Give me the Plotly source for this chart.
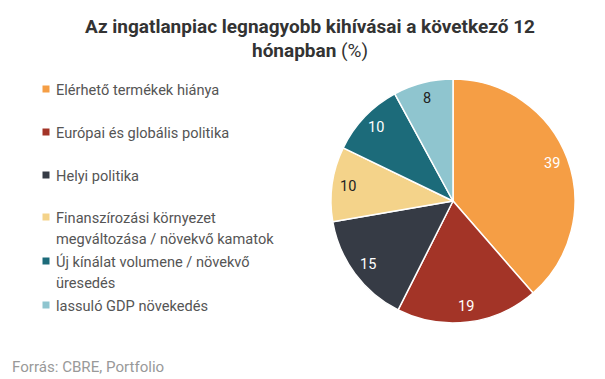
import math
import plotly.graph_objects as go

categories = [
    "Elérhető termékek hiánya",
    "Európai és globális politika",
    "Helyi politika",
    "Finanszírozási környezet<br>megváltozása / növekvő kamatok",
    "Új kínálat volumene / növekvő<br>üresedés",
    "lassuló GDP növekedés",
]
values = [39, 19, 15, 10, 10, 8]
colors = ["#F59E45", "#A33427", "#363B45", "#F4D38A", "#1C6B7A", "#8FC5CF"]
text_colors = ["white", "white", "white", "#222222", "white", "#222222"]

W, H = 605, 379
OFF = 8  # page body margin


def fx(x):
    return (x - OFF) / W


def fy(y):
    return 1 - (y - OFF) / H


CX, CY, R = 453, 201, 122

fig = go.Figure()
fig.add_trace(go.Pie(
    values=values, labels=categories, sort=False, direction="clockwise",
    rotation=0, marker=dict(colors=colors, line=dict(color="white", width=1.5)),
    textinfo="none", showlegend=False, hoverinfo="label+value",
    domain=dict(x=[fx(CX - R), fx(CX + R)], y=[fy(CY + R), fy(CY - R)]),
))

annotations = []
shapes = []

# value labels placed at the middle angle of each slice
total = sum(values)
cum = 0
for v, tc in zip(values, text_colors):
    mid = (cum + v / 2) / total * 2 * math.pi
    cum += v
    rr = 0.87 * R
    px = CX + rr * math.sin(mid)
    py = CY - rr * math.cos(mid)
    annotations.append(dict(
        x=fx(px), y=fy(py), xref="paper", yref="paper", xanchor="center",
        yanchor="middle", showarrow=False, text=str(v),
        font=dict(family="Roboto", size=14.5, color=tc)))

# custom legend built from the arrays
legend_tops = [89, 132, 175, 217, 261, 305]
line_gap = 20.5
for i, (lab, col) in enumerate(zip(categories, colors)):
    y0 = legend_tops[i]
    shapes.append(dict(type="rect", xref="paper", yref="paper",
                       x0=fx(42.5), x1=fx(49.5),
                       y0=fy(y0 + 3.5), y1=fy(y0 - 3.5),
                       fillcolor=col, line=dict(width=0)))
    for j, part in enumerate(lab.split("<br>")):
        annotations.append(dict(
            x=fx(54), y=fy(y0 + j * line_gap + 1), xref="paper", yref="paper",
            xanchor="left", yanchor="middle", showarrow=False, text=part,
            font=dict(family="Roboto", size=14.6, color="#555555")))

annotations.append(dict(
    x=fx(302 + OFF), y=fy(26), xref="paper", yref="paper", xanchor="center",
    yanchor="middle", showarrow=False,
    text="<b>Az ingatlanpiac legnagyobb kihívásai a következő 12</b>",
    font=dict(family="Roboto", size=19, color="#333333")))
annotations.append(dict(
    x=fx(302 + OFF), y=fy(50), xref="paper", yref="paper", xanchor="center",
    yanchor="middle", showarrow=False, text="<b>hónapban</b> (%)",
    font=dict(family="Roboto", size=19, color="#333333")))
annotations.append(dict(
    x=fx(10), y=fy(367), xref="paper", yref="paper", xanchor="left",
    yanchor="middle", showarrow=False, text="Forrás: CBRE, Portfolio",
    font=dict(family="Roboto", size=15.1, color="#999999")))

fig.update_layout(
    width=W, height=H, margin=dict(l=0, r=0, t=0, b=0),
    paper_bgcolor="white", plot_bgcolor="white",
    annotations=annotations, shapes=shapes,
)
fig.write_html("out.html")
